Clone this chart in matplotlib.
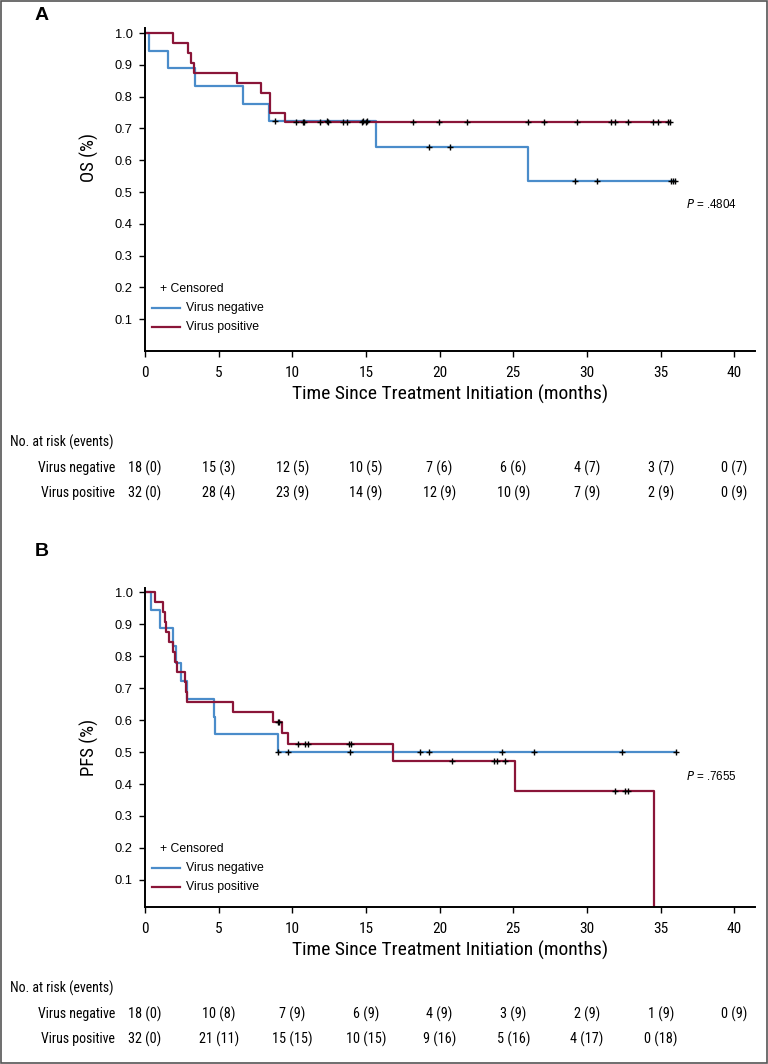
import numpy as np
import matplotlib.pyplot as plt
from matplotlib import font_manager
from matplotlib.patches import Rectangle
from matplotlib.transforms import blended_transform_factory

# ---------------- datos ----------------
meses = [0, 5, 10, 15, 20, 25, 30, 35, 40]

# Panel A (OS)
os_neg_t = [0, 0.3, 1.55, 3.36, 6.64, 8.4, 15.7, 26.0, 36.0]
os_neg_s = [1.0, 0.944, 0.889, 0.833, 0.778, 0.722, 0.642, 0.535, 0.535]
os_neg_cens = [8.85, 12.36, 14.8, 15.1, 19.3, 20.7, 29.2, 30.7, 35.7, 35.85, 36.0]

os_pos_t = [0, 1.87, 2.95, 3.15, 3.35, 6.26, 7.86, 8.5, 9.5, 35.6]
os_pos_s = [1.0, 0.969, 0.938, 0.906, 0.875, 0.844, 0.8125, 0.75, 0.719, 0.719]
os_pos_cens = [10.25, 10.74, 10.8, 11.9, 12.45, 13.47, 13.7, 14.7, 14.98, 18.2, 19.95,
               21.85, 26.0, 27.1, 29.3, 31.6, 31.9, 32.8, 34.5, 34.8, 35.47, 35.6]

os_riesgo_neg = ["18 (0)", "15 (3)", "12 (5)", "10 (5)", "7 (6)", "6 (6)", "4 (7)", "3 (7)", "0 (7)"]
os_riesgo_pos = ["32 (0)", "28 (4)", "23 (9)", "14 (9)", "12 (9)", "10 (9)", "7 (9)", "2 (9)", "0 (9)"]

# Panel B (PFS)
pfs_neg_t = [0, 0.41, 1.02, 1.92, 2.08, 2.44, 2.87, 4.68, 4.77, 9.04, 36.05]
pfs_neg_s = [1.0, 0.944, 0.889, 0.833, 0.778, 0.722, 0.667, 0.611, 0.556, 0.5, 0.5]
pfs_neg_cens = [9.04, 9.7, 13.9, 18.64, 19.3, 24.25, 26.4, 32.4, 36.05]

pfs_pos_t = [0, 0.68, 1.24, 1.36, 1.42, 1.65, 1.88, 2.01, 2.19, 2.72, 2.80, 2.87,
             5.99, 8.7, 9.27, 9.72, 16.83, 25.1, 34.53]
pfs_pos_s = [1.0, 0.969, 0.938, 0.906, 0.875, 0.844, 0.8125, 0.781, 0.75, 0.719, 0.6875, 0.656,
             0.625, 0.594, 0.559, 0.524, 0.472, 0.377, 0.0]
pfs_pos_cens = [9.0, 9.1, 10.4, 10.85, 11.07, 13.85, 13.99, 20.86, 23.7, 23.9, 24.4, 31.9, 32.6, 32.8]

pfs_riesgo_neg = ["18 (0)", "10 (8)", "7 (9)", "6 (9)", "4 (9)", "3 (9)", "2 (9)", "1 (9)", "0 (9)"]
pfs_riesgo_pos = ["32 (0)", "21 (11)", "15 (15)", "10 (15)", "9 (16)", "5 (16)", "4 (17)", "0 (18)", ""]

AZUL = "#4a8cca"
ROJO = "#8a1538"

# fuente angosta si existe, si no Liberation Sans
instaladas = {f.name for f in font_manager.fontManager.ttflist}
angosta = [n for n in ["Liberation Sans Narrow", "Roboto Condensed", "Open Sans Condensed"]
           if n in instaladas]
ANGOSTA = angosta[:1] + ["Liberation Sans", "DejaVu Sans"]
NORMAL = ["Liberation Sans", "DejaVu Sans"]

W, H = 768, 1064
fig = plt.figure(figsize=(W / 100, H / 100), dpi=100)
fig.patches.append(Rectangle((0.001, 0.001), 0.998, 0.998, transform=fig.transFigure,
                             fill=False, edgecolor="#555555", linewidth=1.2))


def fy(py):
    return 1 - py / H


def panel(top, bottom, ylim, letra, letra_y, ylab, ylab_pos, pval, p_y, ley_y, tabla_y,
          neg, pos, riesgo_neg, riesgo_pos):
    ax = fig.add_axes([145 / W, fy(bottom), 610 / W, (bottom - top) / H])
    for (t, s, c), col in ((neg, AZUL), (pos, ROJO)):
        ax.step(t, s, where="post", color=col, lw=1.6, zorder=2)
        idx = np.searchsorted(t, c, side="right") - 1
        ax.plot(c, np.array(s)[idx], ls="none", marker="+", color="black",
                ms=5, mew=1.0, zorder=3)
    ax.set_xlim(0, 41.4)
    ax.set_ylim(*ylim)
    ax.set_xticks(meses)
    ax.set_yticks(np.arange(1, 11) / 10)
    ax.set_yticklabels(["%.1f" % v for v in np.arange(1, 11) / 10], family=NORMAL, fontsize=9.3)
    ax.set_xticklabels([str(m) for m in meses], family=ANGOSTA, fontsize=11)
    for sp in ("top", "right"):
        ax.spines[sp].set_visible(False)
    for sp in ("left", "bottom"):
        ax.spines[sp].set_linewidth(1.4)
    ax.tick_params(direction="out", length=4.5, width=1.0, pad=4.5)
    ax.tick_params(axis="x", pad=6)
    ax.set_xlabel("Time Since Treatment Initiation (months)", family=ANGOSTA, fontsize=14,
                  labelpad=4)
    ax.set_ylabel(ylab, family=ANGOSTA, fontsize=13.5, labelpad=7)
    ax.yaxis.set_label_coords(-0.075, ylab_pos)

    fig.text(35 / W, fy(letra_y), letra, fontsize=14, fontweight="bold",
             family=NORMAL, va="center")
    fig.text(686 / W, fy(p_y), "$P$ = " + pval, fontsize=8.4, family=NORMAL, va="center")

    # leyenda
    fig.text(160 / W, fy(ley_y), "+ Censored", fontsize=8.8, family=NORMAL, va="center")
    for k, (col, nom) in enumerate(((AZUL, "Virus negative"), (ROJO, "Virus positive"))):
        yy = fy(ley_y + 19 * (k + 1))
        fig.add_artist(plt.Line2D([152 / W, 180 / W], [yy, yy], color=col, lw=1.6))
        fig.text(186 / W, yy, nom, fontsize=8.8, family=NORMAL, va="center")

    # tabla de riesgo
    tr = blended_transform_factory(ax.transData, fig.transFigure)
    fig.text(10 / W, fy(tabla_y), "No. at risk (events)", fontsize=10, family=ANGOSTA,
             va="center")
    for k, (nom, fila) in enumerate((("Virus negative", riesgo_neg), ("Virus positive", riesgo_pos))):
        yy = fy(tabla_y + 26 + 25 * k)
        fig.text(115 / W, yy, nom, fontsize=10, family=ANGOSTA, va="center", ha="right")
        for m, txt in zip(meses, fila):
            ax.text(m, yy, txt, transform=tr, fontsize=10.3, family=ANGOSTA,
                    va="center", ha="center", clip_on=False)
    return ax


panel(28, 351, (0, 1.016), "A", 16, "OS (%)", 0.6, ".4804", 204, 289, 442,
      (os_neg_t, os_neg_s, os_neg_cens), (os_pos_t, os_pos_s, os_pos_cens),
      os_riesgo_neg, os_riesgo_pos)
panel(588, 907, (0.015, 1.014), "B", 552, "PFS (%)", 0.5, ".7655", 776, 849, 988,
      (pfs_neg_t, pfs_neg_s, pfs_neg_cens), (pfs_pos_t, pfs_pos_s, pfs_pos_cens),
      pfs_riesgo_neg, pfs_riesgo_pos)

fig.savefig("out.png", dpi=100)
